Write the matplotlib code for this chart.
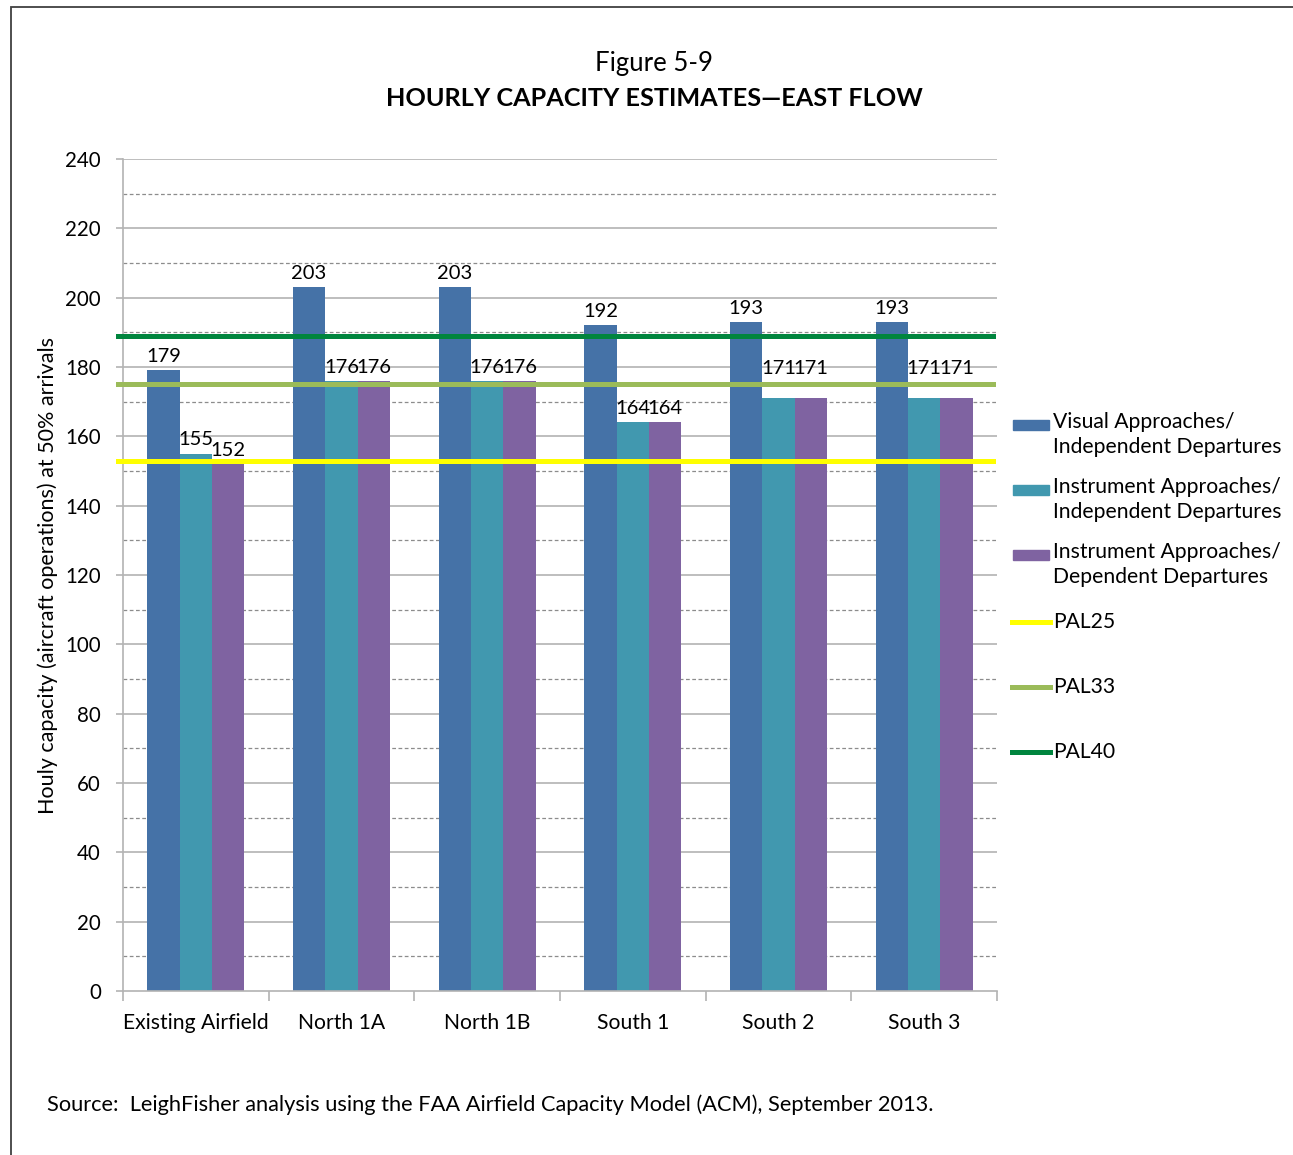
import numpy as np
import matplotlib
matplotlib.use('Agg')
import matplotlib.pyplot as plt
from matplotlib.patches import Rectangle
from matplotlib.lines import Line2D

plt.rcParams['font.family'] = ['Lato', 'DejaVu Sans']

# ---------------- data ----------------
categories = ['Existing Airfield', 'North 1A', 'North 1B', 'South 1', 'South 2', 'South 3']
visual_indep = [179, 203, 203, 192, 193, 193]
instr_indep = [155, 176, 176, 164, 171, 171]
instr_dep = [152, 176, 176, 164, 171, 171]
series_names = ['Visual Approaches/\nIndependent Departures',
                'Instrument Approaches/\nIndependent Departures',
                'Instrument Approaches/\nDependent Departures']
pal_names = ['PAL25', 'PAL33', 'PAL40']
pal_values = [153, 175, 189]

# ---------------- style ----------------
BAR_COLORS = ['#4572A7', '#4198AF', '#7F63A1']
PAL_COLORS = ['#FFFF00', '#9BBB59', '#00853E']
GRID = '#B3B3B3'
W, H = 1293, 1155
# labels that were nudged up in the original (series index, category index)
RAISED = {(1, 4), (2, 4), (1, 5), (2, 5)}

fig = plt.figure(figsize=(W / 100, H / 100), dpi=100)
ax = fig.add_axes([123 / W, 1 - 991 / H, 874 / W, 832 / H])

x = np.arange(len(categories))
w = 0.2225
for i, vals in enumerate([visual_indep, instr_indep, instr_dep]):
    pos = x + (i - 1) * w
    ax.bar(pos, vals, width=w, color=BAR_COLORS[i], zorder=2)
    for j, (px, v) in enumerate(zip(pos, vals)):
        off = 6 if (i, j) in RAISED else 1.5
        ax.text(px, v + off, str(v), ha='center', va='bottom', fontsize=14.5, zorder=5)

for v, c in zip(pal_values, PAL_COLORS):
    ax.axhline(v, xmin=-0.006, xmax=0.995, color=c, lw=3.6, clip_on=False, zorder=4)

ax.set_xlim(-0.5, len(categories) - 0.5)
ax.set_ylim(0, 240)

# grid: solid majors every 20, dashed minors in between
ax.set_yticks(np.arange(0, 241, 20))
for yv in np.arange(20, 241, 20):
    ax.axhline(yv, color=GRID, lw=1.2, zorder=1)
for yv in np.arange(10, 240, 20):
    ax.axhline(yv, color='#8C8C8C', lw=0.9, ls=(0, (3, 2)), zorder=1)

ax.set_xticks(x)
ax.set_xticklabels(categories, fontsize=15.2)
ax.set_xticks(np.arange(-0.5, len(categories)), minor=True)
ax.tick_params(axis='x', which='major', length=0, pad=16)
ax.tick_params(axis='x', which='minor', length=7, color=GRID, width=1.2)
ax.tick_params(axis='y', labelsize=14.8, length=5, color=GRID, width=1.2, pad=11)

for s in ['top', 'right']:
    ax.spines[s].set_visible(False)
for s in ['left', 'bottom']:
    ax.spines[s].set_color(GRID)
    ax.spines[s].set_linewidth(1.2)

ax.set_ylabel('Houly capacity (aircraft operations) at 50% arrivals', fontsize=15.5)
ax.yaxis.set_label_coords((58 - 123) / 874, 0.5)

# titles
fig.text(654 / W, 1 - 64 / H, 'Figure 5-9', ha='center', va='center', fontsize=18.5)
fig.text(654 / W, 1 - 98 / H, 'HOURLY CAPACITY ESTIMATES\u2014EAST FLOW',
         ha='center', va='center', fontsize=18.2, fontweight='bold')
fig.text(47 / W, 1 - 1105 / H,
         'Source:  LeighFisher analysis using the FAA Airfield Capacity Model (ACM), September 2013.',
         ha='left', va='center', fontsize=15.7)

# legend (Excel style, equal entry heights, handle aligned with first line)
entry_y = [425, 490, 555, 622, 687, 752]
for k in range(3):
    yy = 1 - entry_y[k] / H
    fig.patches.append(Rectangle((1013 / W, yy - 5 / H), 36 / W, 10 / H,
                                 transform=fig.transFigure, color=BAR_COLORS[k]))
    fig.text(1053 / W, yy + 13 / H, series_names[k], ha='left', va='top',
             fontsize=15.2, linespacing=1.33)
for k in range(3):
    yy = 1 - entry_y[3 + k] / H
    fig.lines.append(Line2D([1012 / W, 1050 / W], [yy, yy], transform=fig.transFigure,
                            color=PAL_COLORS[k], lw=3.6))
    fig.text(1053 / W, yy, pal_names[k], ha='left', va='center', fontsize=15.2)

# frame around the figure
fig.patches.append(Rectangle((11 / W, -0.01), 1.1, 1 - 7 / H + 0.01,
                             transform=fig.transFigure, fill=False, ec='#404040', lw=1.3))

fig.savefig('out.png', dpi=100)
